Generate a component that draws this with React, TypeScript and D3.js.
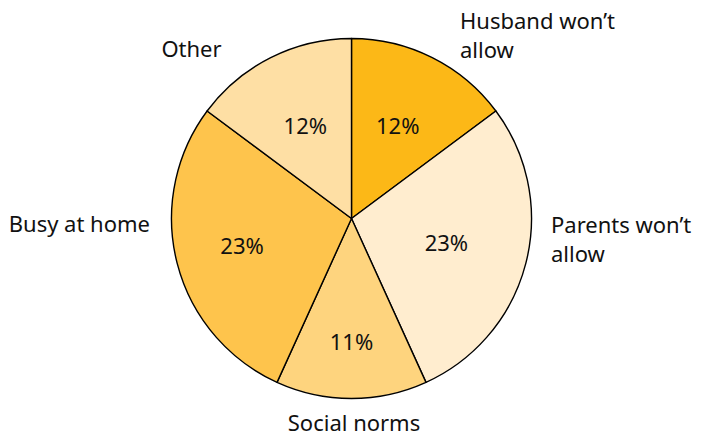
import React from "react";
import * as d3 from "d3";

const categories = ["Husband won’t allow", "Parents won’t allow", "Social norms", "Busy at home", "Other"];
const values = [12, 23, 11, 23, 12];
const colors = ["#FCB817", "#FFEDCF", "#FED47E", "#FEC44C", "#FEDFA4"];

// label layout: lines, anchor, and offset from center
const outerLabels: { lines: string[]; x: number; y: number; anchor: string }[] = [
  { lines: ["Husband won’t", "allow"], x: 108.5, y: -189.5, anchor: "start" },
  { lines: ["Parents won’t", "allow"], x: 199.5, y: 14.5, anchor: "start" },
  { lines: ["Social norms"], x: 2.5, y: 212.5, anchor: "middle" },
  { lines: ["Busy at home"], x: -201.5, y: 13.5, anchor: "end" },
  { lines: ["Other"], x: -160, y: -161.5, anchor: "middle" },
];
const innerRadius = [103, 98, 124, 113, 103];

const width = 708,
  height = 436,
  cx = 351.5,
  cy = 218.5,
  r = 180;

const App: React.FC = () => {
  const pie = d3
    .pie<number>()
    .sort(null)
    .value((d) => d);
  const arcs = pie(values);
  const arc = d3.arc<d3.PieArcDatum<number>>().innerRadius(0).outerRadius(r);
  const font = "'Noto Sans', sans-serif";

  return (
    <svg width={width} height={height} style={{ position: "absolute", left: 0, top: 0 }}>
      <g transform={`translate(${cx},${cy})`}>
        {arcs.map((a, i) => (
          <path key={i} d={arc(a) || ""} fill={colors[i]} stroke="#000" strokeWidth={1.4} strokeLinejoin="round">
            <title>{categories[i]}</title>
          </path>
        ))}
        {arcs.map((a, i) => {
          const mid = (a.startAngle + a.endAngle) / 2;
          const rr = innerRadius[i];
          return (
            <text
              key={"p" + i}
              x={Math.sin(mid) * rr}
              y={-Math.cos(mid) * rr}
              dy="0.35em"
              textAnchor="middle"
              fontFamily={font}
              fontSize={22}
              fill="#111"
            >
              {values[i]}%
            </text>
          );
        })}
        {outerLabels.map((l, i) => (
          <text
            key={"l" + i}
            x={l.x}
            y={l.y}
            textAnchor={l.anchor}
            fontFamily={font}
            fontSize={22}
            fill="#111"
          >
            {l.lines.map((t, j) => (
              <tspan key={j} x={l.x} dy={j === 0 ? 0 : 29}>
                {t}
              </tspan>
            ))}
          </text>
        ))}
      </g>
    </svg>
  );
};

export default App;
